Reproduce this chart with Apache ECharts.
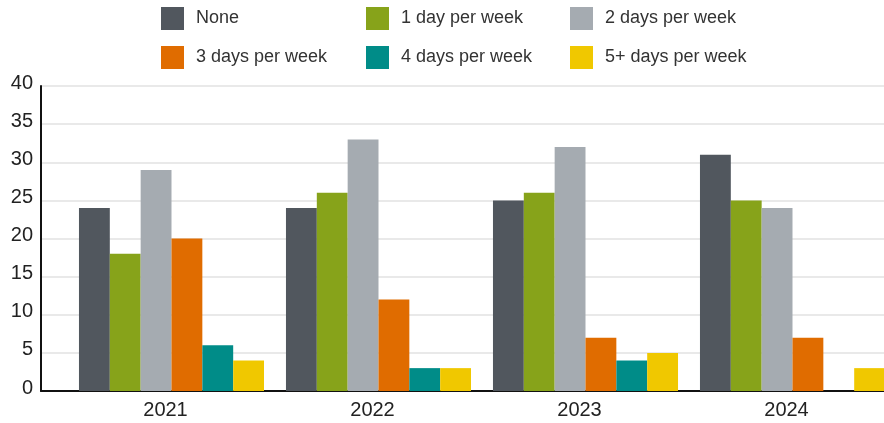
<!DOCTYPE html>
<html><head><meta charset="utf-8">
<script src="https://cdn.jsdelivr.net/npm/echarts@6/dist/echarts.min.js"></script>
<style>html,body{margin:0;padding:0;background:#fff}#c{width:884px;height:423px}</style>
</head><body><div id="c"></div>
<script>
const categories = ['2021', '2022', '2023', '2024'];
const seriesNames = ['None', '1 day per week', '2 days per week', '3 days per week', '4 days per week', '5+ days per week'];
const none = [24, 24, 25, 31];
const oneDay = [18, 26, 26, 25];
const twoDays = [29, 33, 32, 24];
const threeDays = [20, 12, 7, 7];
const fourDays = [6, 3, 4, null];
const fivePlus = [4, 3, 5, 3];
const yTicks = [0, 5, 10, 15, 20, 25, 30, 35, 40];
const colors = ['#51575e', '#87a31a', '#a5abb1', '#e06c00', '#008c88', '#f0c800'];
const values = [none, oneDay, twoDays, threeDays, fourDays, fivePlus];

const font = 'Liberation Sans, Arial, sans-serif';
const legendLeft = [161, 366, 570, 161, 366, 570];
const legendTop = [7, 7, 7, 46, 46, 46];
const chart = echarts.init(document.getElementById('c'), null, {renderer: 'canvas'});
chart.setOption({
  animation: false,
  textStyle: {fontFamily: font},
  legend: seriesNames.map((name, i) => ({
    left: legendLeft[i], top: legendTop[i], padding: 0,
    itemWidth: 23, itemHeight: 23, itemGap: 0,
    icon: 'rect',
    formatter: '{a|{name}}',
    textStyle: {fontSize: 18, color: '#333', fontFamily: font,
      rich: {a: {fontSize: 18, color: '#333', padding: [0, 0, 0, 7], fontFamily: font}}},
    data: [name]
  })),
  grid: [
    {left: 41, right: 0, top: 86, bottom: 32, outerBoundsMode: 'none'},
    {left: 68, width: 828, top: 86, bottom: 32, outerBoundsMode: 'none'}
  ],
  xAxis: [
    {gridIndex: 0, type: 'category', data: categories,
      axisLine: {lineStyle: {color: '#111', width: 2}}, axisTick: {show: false}, axisLabel: {show: false}},
    {gridIndex: 1, type: 'category', data: categories,
      axisLine: {show: false}, axisTick: {show: false},
      axisLabel: {fontSize: 20, color: '#222', margin: 9, fontFamily: font,
        formatter: '{a|{value}}', rich: {a: {fontSize: 20, color: '#222', padding: [0, 12, 0, 0], fontFamily: font}}}}
  ],
  yAxis: [
    {gridIndex: 0, type: 'value', min: yTicks[0], max: yTicks[yTicks.length - 1], interval: 5,
      axisLine: {show: true, lineStyle: {color: '#111', width: 2}}, axisTick: {show: false},
      axisLabel: {fontSize: 20, color: '#222', margin: 8, fontFamily: font,
        formatter: '{a|{value}}', rich: {a: {fontSize: 20, color: '#222', padding: [0, 0, 6, 0], fontFamily: font}}},
      splitLine: {lineStyle: {color: '#e2e2e2', width: 1.5}}},
    {gridIndex: 1, type: 'value', min: yTicks[0], max: yTicks[yTicks.length - 1], interval: 5,
      show: false, splitLine: {show: false}}
  ],
  series: seriesNames.map((name, i) => ({
    name, type: 'bar', xAxisIndex: 1, yAxisIndex: 1,
    data: values[i], barGap: '0%', barCategoryGap: '10.6%',
    itemStyle: {color: colors[i]}
  }))
});
</script></body></html>
